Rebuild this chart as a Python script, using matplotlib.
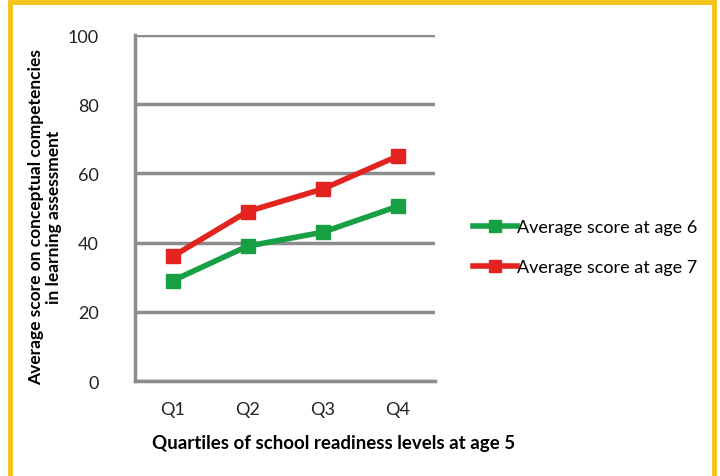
import matplotlib.pyplot as plt
from matplotlib.patches import Rectangle

# Data
quartiles = ['Q1', 'Q2', 'Q3', 'Q4']
age6 = [29, 39, 43, 50.5]
age7 = [36, 49, 55.5, 65]

plt.rcParams['font.family'] = ['Lato', 'DejaVu Sans']

fig = plt.figure(figsize=(7.2, 4.77), dpi=100)
ax = fig.add_axes([0.1875, 0.199, 0.417, 0.7255])

x = range(len(quartiles))
ax.plot(x, age6, color='#17a043', linewidth=4, marker='s', markersize=10,
        label='Average score at age 6')
ax.plot(x, age7, color='#e3231f', linewidth=4, marker='s', markersize=10,
        label='Average score at age 7')

ax.set_xlim(-0.5, 3.5)
ax.set_ylim(0, 100)
ax.set_yticks(range(0, 101, 20))
ax.set_xticks(list(x))
ax.set_xticklabels(quartiles)
ax.yaxis.grid(True, color='#8c8c8c', linewidth=2.5)
ax.set_axisbelow(True)
for s in ['top', 'right']:
    ax.spines[s].set_visible(False)
ax.spines['left'].set_color('#8c8c8c')
ax.spines['left'].set_linewidth(2.5)
ax.spines['bottom'].set_color('#8c8c8c')
ax.spines['bottom'].set_linewidth(2.5)
ax.tick_params(axis='both', length=0, labelsize=13, colors='#222222')
ax.tick_params(axis='y', pad=26)
ax.tick_params(axis='x', pad=14)

ax.set_xlabel('Quartiles of school readiness levels at age 5', fontsize=13.5,
              fontweight='bold')
ax.xaxis.set_label_coords(0.663, -0.152)
ax.set_ylabel('Average score on conceptual competencies\nin learning assessment',
              fontsize=12.5, fontweight='bold', va='center')
ax.yaxis.set_label_coords(-0.30, 0.477)

ax.legend(loc='center left', bbox_to_anchor=(1.073, 0.387), frameon=False,
          fontsize=13, handlelength=2.4, handletextpad=0.0, labelspacing=1.3,
          markerscale=0.9)

# yellow frame around the figure
fig.add_artist(Rectangle((10 / 720, -0.05), 704 / 720, 1.05 - 2.5 / 477,
                         transform=fig.transFigure, fill=False,
                         edgecolor='#f6c51c', linewidth=3.5))

fig.savefig('out.png', dpi=100)
